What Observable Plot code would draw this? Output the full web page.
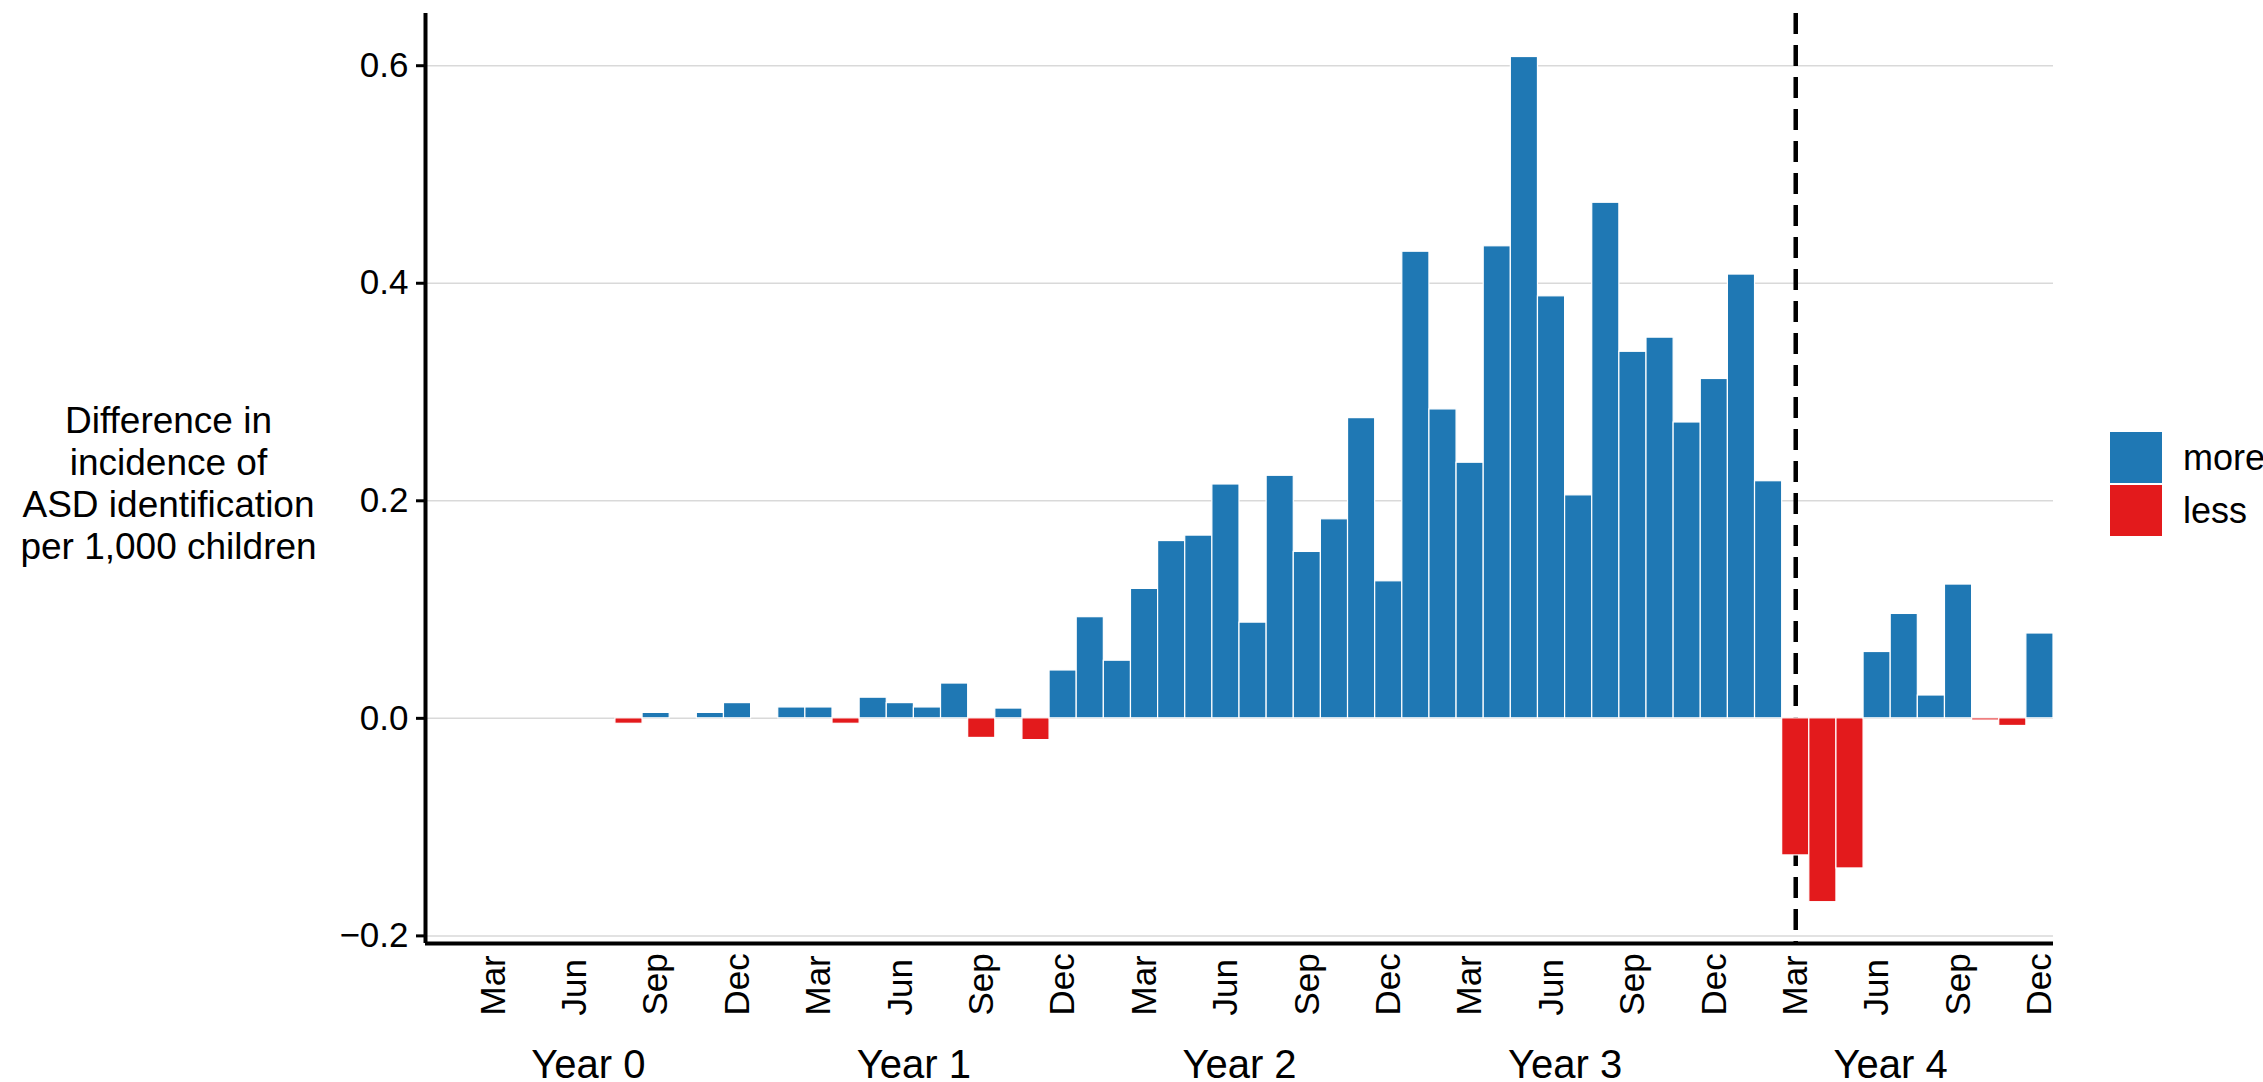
<!DOCTYPE html>
<html>
<head>
<meta charset="utf-8">
<script src="https://cdn.jsdelivr.net/npm/d3@7"></script>
<script src="https://cdn.jsdelivr.net/npm/@observablehq/plot@0.6"></script>
<style>
  html, body { margin: 0; padding: 0; background: #ffffff; overflow: hidden; }
  #wrap { position: relative; width: 2263px; height: 1082px; }
  #legend { position: absolute; left: 2110px; top: 432px; font-family: "Liberation Sans", Arial, sans-serif; font-size: 36px; color: #000; }
  .row { display: flex; align-items: center; height: 51px; margin-bottom: 2px; }
  .key { width: 52px; height: 51px; margin-right: 21px; }
</style>
</head>
<body>
<div id="wrap"><div id="legend"></div></div>
<script>
// ---- data ----
const years = ["Year 0", "Year 1", "Year 2", "Year 3", "Year 4"];
const monthNames = ["Jan","Feb","Mar","Apr","May","Jun","Jul","Aug","Sep","Oct","Nov","Dec"];
const tickMonths = ["Mar", "Jun", "Sep", "Dec"];
// monthly difference in incidence, Year 0 Jan ... Year 4 Dec (60 months)
const values = [
  0, 0, 0, 0, 0, 0, 0, -0.005, 0.005, 0, 0.005, 0.014,
  0, 0.010, 0.010, -0.005, 0.019, 0.014, 0.010, 0.032, -0.018, 0.009, -0.020, 0.044,
  0.093, 0.053, 0.119, 0.163, 0.168, 0.215, 0.088, 0.223, 0.153, 0.183, 0.276, 0.126,
  0.429, 0.284, 0.235, 0.434, 0.608, 0.388, 0.205, 0.474, 0.337, 0.350, 0.272, 0.312,
  0.408, 0.218, -0.126, -0.169, -0.138, 0.061, 0.096, 0.021, 0.123, -0.002, -0.007, 0.078
];
const directions = ["more", "less"];
const dirColors = ["#1F78B4", "#E31A1C"];
const yTicks = [-0.2, 0, 0.2, 0.4, 0.6];
const yDomain = [-0.207, 0.648];
const markerYear = 4, markerMonth = "Mar";
const yTitle = "Difference in\nincidence of\nASD identification\nper 1,000 children";

// ---- derived tables ----
const data = values.map((v, i) => ({
  i,
  year: years[Math.floor(i / 12)],
  month: monthNames[i % 12],
  v,
  dir: v >= 0 ? "more" : "less"
}));
const monthTicks = data.filter(d => tickMonths.includes(d.month));
const markerIndex = markerYear * 12 + monthNames.indexOf(markerMonth);
const yearLabels = years.map((y, j) => ({ label: y, center: j * 12 + 6 }));

const font = "'Liberation Sans', Arial, sans-serif";

const chart = Plot.plot({
  width: 2263,
  height: 1082,
  marginLeft: 425,
  marginRight: 210,
  marginTop: 13,
  marginBottom: 139,
  style: { fontFamily: font, fontSize: "35px", color: "#000", background: "#fff", overflow: "visible" },
  x: { domain: [0, values.length], axis: null },
  y: { domain: yDomain, axis: null },
  color: { domain: directions, range: dirColors },
  marks: [
    Plot.gridY(yTicks, { stroke: "#d9d9d9", strokeOpacity: 1, strokeWidth: 1.5 }),
    Plot.ruleX([markerIndex + 0.5], { stroke: "black", strokeWidth: 4.5, strokeDasharray: "21,11" }),
    Plot.rectY(data, {
      x1: d => d.i, x2: d => d.i + 1, y1: 0, y2: "v",
      fill: "dir", stroke: "white", strokeWidth: 1.2
    }),
    Plot.ruleX([0], { stroke: "black", strokeWidth: 4 }),
    Plot.ruleY([yDomain[0]], { stroke: "black", strokeWidth: 4 }),
    Plot.axisY(yTicks, {
      label: null,
      tickSize: 9, tickPadding: 8, strokeWidth: 3,
      tickFormat: d3.format(".1f"), fontSize: 35, fill: "#000"
    }),
    Plot.text(monthTicks, {
      x: d => d.i + 0.5, text: "month",
      frameAnchor: "bottom", rotate: -90, textAnchor: "start", lineAnchor: "middle",
      dy: 72, fontSize: 35, fill: "#000"
    }),
    Plot.text(yearLabels, {
      x: "center", text: "label",
      frameAnchor: "bottom", lineAnchor: "bottom", textAnchor: "middle",
      dy: 134, fontSize: 40, fill: "#000"
    }),
    Plot.text([yTitle], {
      text: d => d, frameAnchor: "left", textAnchor: "middle", lineAnchor: "middle",
      dx: -257, dy: 4, lineHeight: 1.14, fontSize: 37, fill: "#000"
    })
  ]
});

const wrap = document.getElementById("wrap");
wrap.insertBefore(chart, wrap.firstChild);

// legend
const legend = document.getElementById("legend");
directions.forEach((d, k) => {
  const row = document.createElement("div");
  row.className = "row";
  const key = document.createElement("div");
  key.className = "key";
  key.style.background = dirColors[k];
  const lab = document.createElement("span");
  lab.textContent = d;
  row.appendChild(key);
  row.appendChild(lab);
  legend.appendChild(row);
});
</script>
</body>
</html>
